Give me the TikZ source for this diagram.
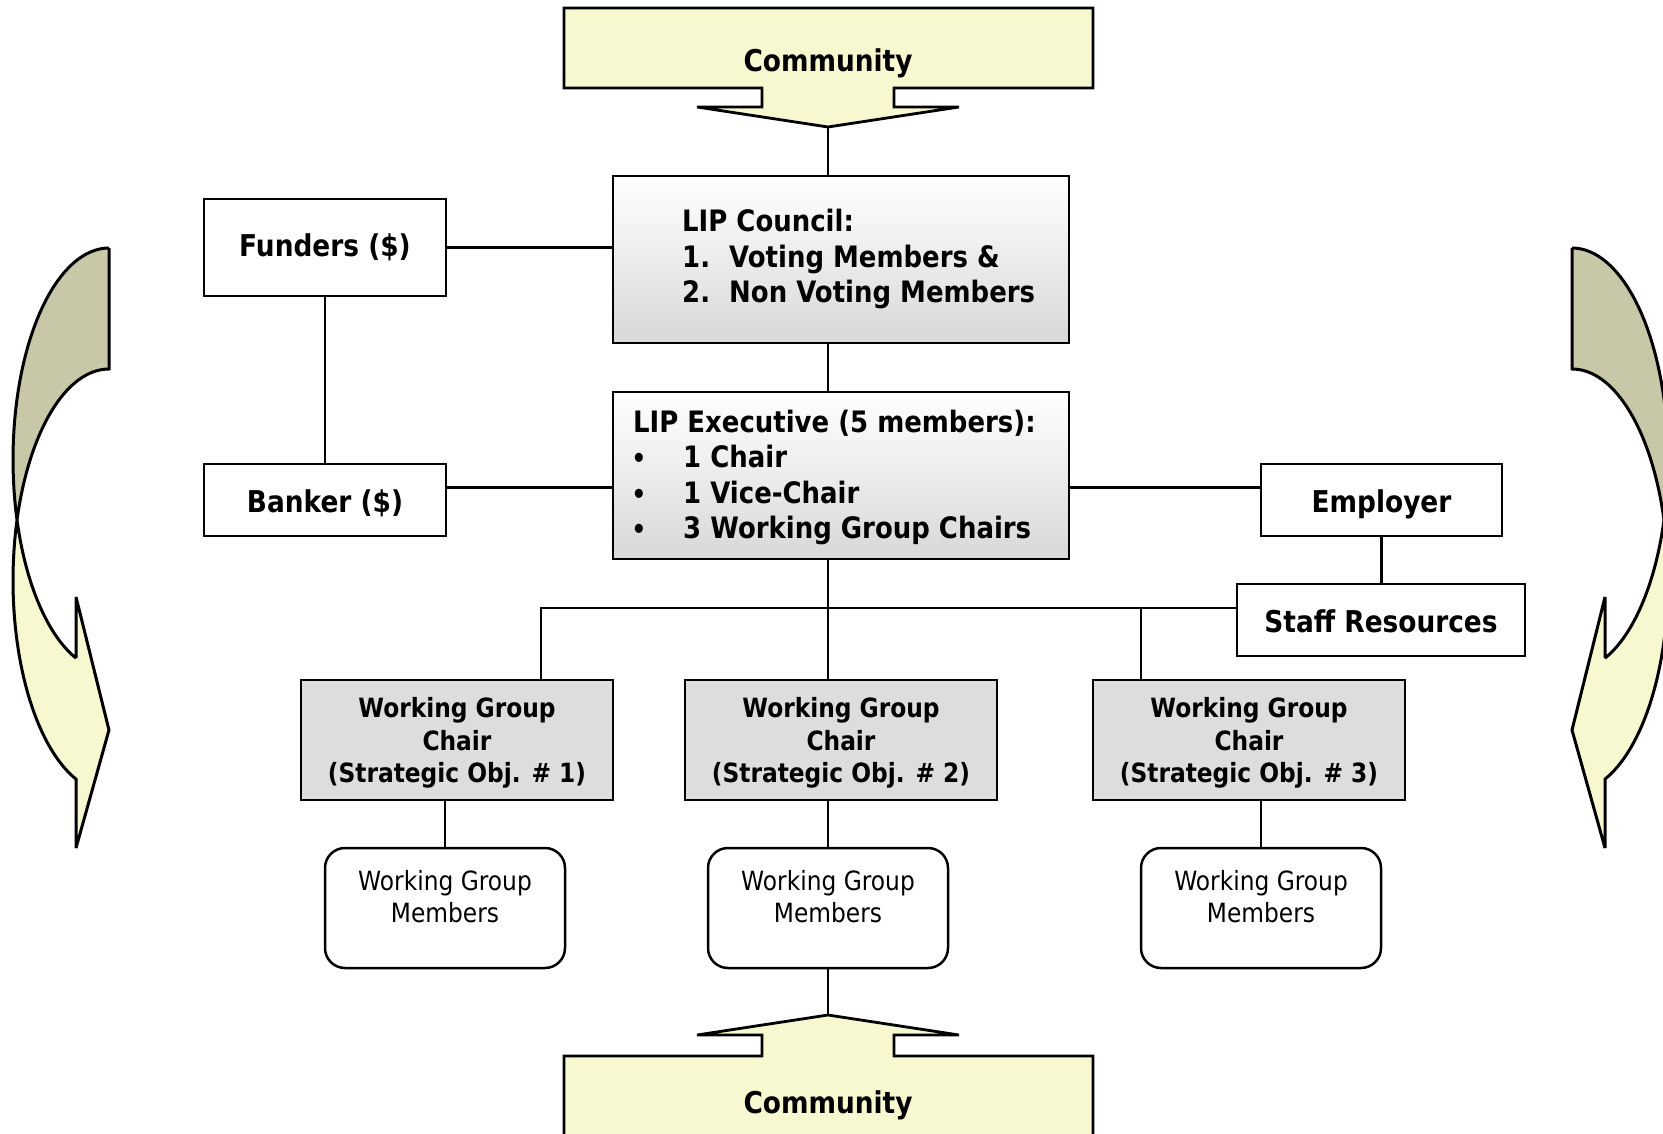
\documentclass[tikz,border=0pt]{standalone}
\usepackage{fontspec}
\setmainfont{DejaVu Sans}[FakeStretch=0.88]
\usetikzlibrary{calc}
\definecolor{lightyel}{RGB}{248,248,208}
\definecolor{darkolive}{RGB}{200,200,168}
\definecolor{boxgray}{RGB}{221,221,221}
\definecolor{gradgray}{RGB}{216,216,216}
\newcommand{\lipcurve}[2]{%
 \filldraw[curvearrow, fill=darkolive] (#1,248) -- (#1,369)
   -- plot[domain=0:73.4,samples=40,variable=\q] ({#1-(#2)*96*sin(\q)},{580.5-211.5*cos(\q)})
   -- plot[domain=106.6:0,samples=40,variable=\q] ({#1-(#2)*96*sin(\q)},{459.5-211.5*cos(\q)}) -- cycle;
 \filldraw[curvearrow, fill=lightyel]
   plot[domain=73.4:159.9,samples=40,variable=\q] ({#1-(#2)*96*sin(\q)},{580.5-211.5*cos(\q)})
   -- ({#1-(#2)*33},848) -- (#1,730) -- ({#1-(#2)*33},597) -- ({#1-(#2)*33},658.1)
   -- plot[domain=159.9:106.6,samples=40,variable=\q] ({#1-(#2)*96*sin(\q)},{459.5-211.5*cos(\q)}) -- cycle;}
\newcommand{\lipbullet}{\makebox[52pt][l]{\hspace{0.5pt}\fontsize{26}{26}\selectfont\textbullet}}
\tikzset{
 plainbox/.style={draw, line width=2.5pt, inner sep=0pt, align=center, font=\fontsize{30}{36}\selectfont\bfseries},
 gradbox/.style={draw, line width=2.5pt, top color=white, bottom color=gradgray, inner sep=0pt},
 chairbox/.style={draw, line width=2.5pt, fill=boxgray, inner sep=0pt},
 chairtext/.style={align=center, inner sep=0pt, font=\fontsize{26.5}{32.5}\selectfont\bfseries},
 memberbox/.style={draw, line width=2.5pt, rounded corners=20pt, inner sep=0pt},
 membertext/.style={align=center, inner sep=0pt, font=\fontsize{26.5}{32.5}\selectfont},
 bigtext/.style={inner sep=0pt, font=\fontsize{29.5}{35}\selectfont\bfseries},
 link/.style={line width=2.2pt},
 callout/.style={draw, line width=2.8pt, fill=lightyel, line join=miter, miter limit=4},
 curvearrow/.style={draw, line width=3pt, line join=miter, miter limit=4}
}
\begin{document}
\begin{tikzpicture}[x=1pt,y=-1pt]
\useasboundingbox (0,0) rectangle (1663,1134);
\clip (0,0) rectangle (1663,1134);
\fill[white] (0,0) rectangle (1663,1134);

% side curved arrows
\lipcurve{109}{1}
\lipcurve{1572}{-1}

% community callouts
\coordinate (toptip) at (828,127);
\coordinate (bottip) at (828,1015);
\path[callout] (564,8) -- (1093,8) -- (1093,88) -- (894,88) -- (894,107) -- (959,107)
  -- (toptip) -- (697,107) -- (762,107) -- (762,88) -- (564,88) -- cycle;
\node[bigtext, font=\fontsize{30}{36}\selectfont\bfseries, anchor=base] (commtop) at (828,72) {Community};
\path[callout] (564,1145) -- (564,1056) -- (762,1056) -- (762,1035) -- (697,1035) -- (bottip)
  -- (959,1035) -- (894,1035) -- (894,1056) -- (1093,1056) -- (1093,1145) -- cycle;
\node[bigtext, font=\fontsize{30}{36}\selectfont\bfseries, anchor=base] (commbot) at (828,1113) {Community};

% main boxes
\node[gradbox, minimum width=456pt, minimum height=167pt] (council) at (841,259.5) {};
\node[bigtext, anchor=base west] (c1) at (682,232) {LIP Council:};
\node[bigtext, anchor=base west] (c2) at (682,267) {\makebox[47pt][l]{1.}Voting Members \&};
\node[bigtext, anchor=base west] (c3) at (682,302) {\makebox[47pt][l]{2.}Non Voting Members};

\node[gradbox, minimum width=456pt, minimum height=167pt] (exec) at (841,475.5) {};
\node[bigtext, anchor=base west] (e0) at (633,432) {LIP Executive (5 members):};
\node[bigtext, anchor=base west] (e1) at (631,467) {\lipbullet 1 Chair};
\node[bigtext, anchor=base west] (e2) at (631,503) {\lipbullet 1 Vice-Chair};
\node[bigtext, anchor=base west] (e3) at (631,538.5) {\lipbullet 3 Working Group Chairs};

\node[plainbox, minimum width=242pt, minimum height=97pt] (funders) at (325,247.5) {Funders (\$)};
\node[plainbox, minimum width=242pt, minimum height=72pt, text height=28pt, text depth=3pt] (banker) at (325,500) {Banker (\$)};
\node[plainbox, minimum width=241pt, minimum height=72pt, text height=28pt, text depth=3pt] (employer) at (1381.5,500) {Employer};
\node[plainbox, minimum width=288pt, minimum height=72pt, text height=27pt, text depth=3pt] (staff) at (1381,620) {Staff Resources};

\node[chairbox, minimum width=312pt, minimum height=120pt] (wg1) at (457,740) {};
\node[chairbox, minimum width=312pt, minimum height=120pt] (wg2) at (841,740) {};
\node[chairbox, minimum width=312pt, minimum height=120pt] (wg3) at (1249,740) {};
\node[chairtext] (wg1t) at (457,743) {Working Group\\Chair\\(Strategic Obj. \# 1)};
\node[chairtext] (wg2t) at (841,743) {Working Group\\Chair\\(Strategic Obj. \# 2)};
\node[chairtext] (wg3t) at (1249,743) {Working Group\\Chair\\(Strategic Obj. \# 3)};

\node[memberbox, minimum width=240pt, minimum height=120pt] (m1) at (445,908) {};
\node[memberbox, minimum width=240pt, minimum height=120pt] (m2) at (828,908) {};
\node[memberbox, minimum width=240pt, minimum height=120pt] (m3) at (1261,908) {};
\node[membertext] (m1t) at (445,896.5) {Working Group\\Members};
\node[membertext] (m2t) at (828,896.5) {Working Group\\Members};
\node[membertext] (m3t) at (1261,896.5) {Working Group\\Members};

% connectors
\draw[link] (toptip) -- (toptip |- council.north);
\draw[link] (council.south -| toptip) -- (exec.north -| toptip);
\draw[link] (funders.east) -- (funders.east -| council.west);
\draw[link] (funders.south) -- (banker.north);
\coordinate (exL) at ($(exec.west)+(0,12)$);
\coordinate (exR) at ($(exec.east)+(0,12)$);
\draw[link] (exL -| banker.east) -- (exL);
\draw[link] (exR) -- (exR -| employer.west);
\draw[link] (employer.south) -- (staff.north -| employer.south);
\draw[link] (exec.south -| toptip) -- (wg2.north -| toptip);
\coordinate (b1) at (541,608);
\coordinate (b3) at (1141,608);
\draw[link] (b1 |- wg1.north) -- (b1) -- (b1 -| staff.west);
\draw[link] (b3) -- (b3 |- wg3.north);
\draw[link] (wg1.south -| m1.north) -- (m1.north);
\draw[link] (wg2.south -| m2.north) -- (m2.north);
\draw[link] (wg3.south -| m3.north) -- (m3.north);
\draw[link] (m2.south) -- (bottip);
\end{tikzpicture}
\end{document}
